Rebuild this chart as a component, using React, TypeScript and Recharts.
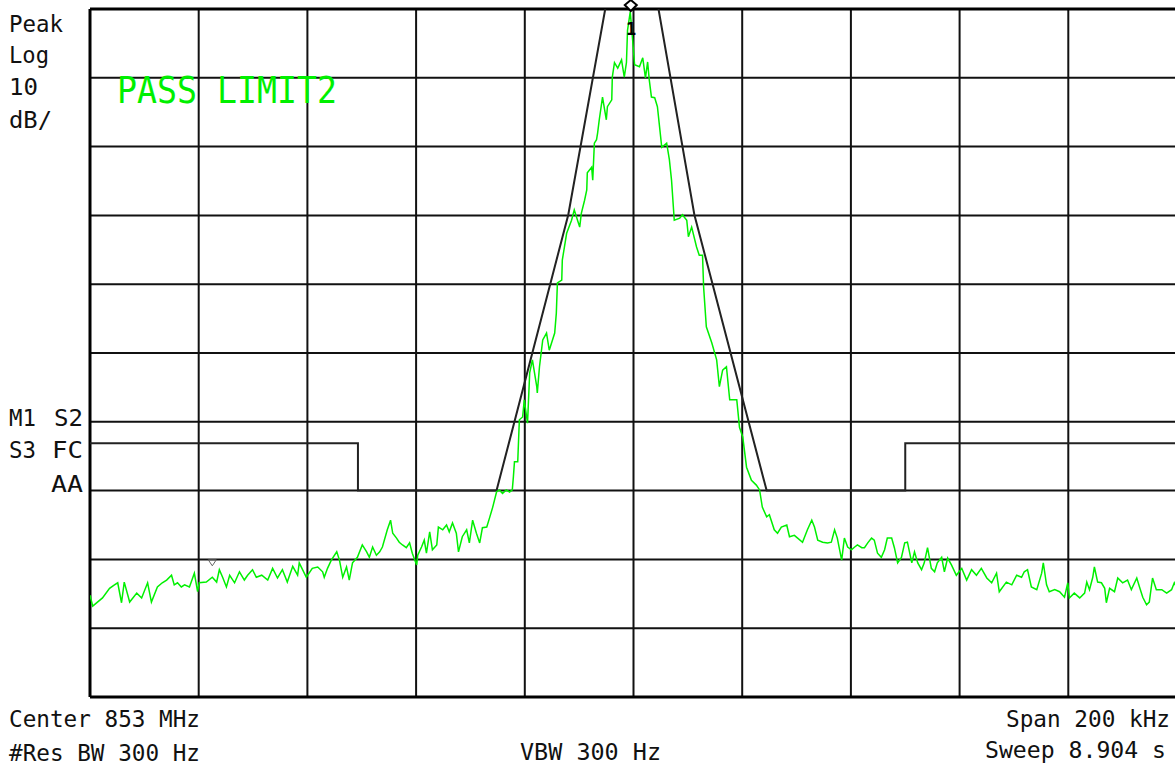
import React from 'react';
import { LineChart, Line, XAxis, YAxis, CartesianGrid, ReferenceLine, ReferenceDot } from 'recharts';

// frequency offset from 853 MHz in kHz, level in dB (top of screen = 0 dB, 10 dB/div)
const freqTicks = [-100, -80, -60, -40, -20, 0, 20, 40, 60, 80, 100];
const levelTicks = [-100, -90, -80, -70, -60, -50, -40, -30, -20, -10, 0];

const noiseLeft: [number, number][] = [
  [-100, -85.2], [-99.5, -86.8], [-97.7, -85.6], [-96.4, -84.2], [-95.5, -83.7], [-94.9, -83.4],
  [-94.2, -86.3], [-93.7, -83.3], [-92.7, -86.2], [-91.4, -84.9], [-90.5, -85.6], [-89.4, -83.4],
  [-88.7, -86.2], [-87.6, -84.0], [-86.7, -83.4], [-85.9, -83.0], [-85.0, -82.3], [-84.5, -83.7],
  [-83.9, -83.4], [-83.2, -84.0], [-82.6, -83.7], [-81.7, -84.0], [-80.8, -82.0], [-80.2, -84.7],
  [-79.9, -83.4], [-78.6, -83.3], [-77.5, -82.6], [-76.7, -83.3], [-76.2, -81.5], [-75.6, -82.6],
  [-74.9, -84.0], [-74.3, -82.3], [-73.4, -83.4], [-72.5, -81.8], [-71.6, -83.0], [-71.0, -82.3],
  [-70.1, -81.5], [-69.4, -82.6], [-68.4, -82.3], [-67.3, -83.0], [-66.4, -81.3], [-65.5, -82.7],
  [-64.6, -81.5], [-63.7, -83.3], [-62.7, -81.0], [-61.8, -82.3],
];

const shoulderLeft: [number, number][] = [
  [-61.5, -80.5], [-60.2, -82.6], [-59.1, -81.3], [-58.1, -81.1], [-57.2, -81.8], [-56.9, -82.6],
  [-56.3, -81.3], [-55.6, -80.1], [-54.6, -78.9], [-54.1, -80.1], [-53.5, -82.6], [-52.8, -81.1],
  [-52.3, -83.0], [-51.7, -80.5], [-50.8, -79.7], [-49.9, -77.9], [-49.1, -78.9], [-48.6, -79.7],
  [-48.0, -78.2], [-47.3, -79.4], [-46.7, -78.9], [-46.2, -78.2], [-45.3, -75.7], [-44.7, -74.3],
  [-44.3, -76.2], [-43.6, -76.9], [-43.1, -77.5], [-42.5, -77.9], [-41.8, -78.3], [-41.2, -77.6],
  [-40.7, -79.1], [-39.9, -80.8], [-39.7, -79.4], [-39.0, -78.2], [-38.5, -77.2], [-38.1, -79.1],
  [-37.5, -76.0], [-37.0, -78.6], [-36.2, -77.9], [-35.9, -75.3], [-35.1, -75.7], [-34.4, -75.0],
  [-33.9, -76.0], [-33.3, -74.7], [-32.6, -76.2], [-32.2, -78.9], [-31.5, -76.7], [-30.7, -75.7],
  [-30.2, -77.6], [-29.6, -74.3], [-28.9, -76.2], [-28.3, -77.6], [-27.8, -75.4], [-27.0, -75.3],
  [-26.5, -74.0], [-25.9, -72.4], [-25.2, -70.2], [-24.7, -69.9], [-24.1, -70.4], [-23.4, -69.9],
  [-22.8, -70.2], [-22.3, -69.9],
];

const risingEdge: [number, number][] = [
  [-22.1, -68.0], [-21.9, -65.8], [-21.3, -65.8], [-21.0, -59.7], [-20.4, -59.3], [-20.1, -56.8],
  [-19.5, -60.2], [-19.1, -52.9], [-18.6, -51.0], [-17.8, -54.9], [-17.7, -55.8], [-17.3, -52.0],
  [-16.7, -48.1], [-16.0, -47.1], [-15.5, -49.6], [-14.5, -47.1], [-14.2, -44.2], [-14.0, -39.8],
  [-13.2, -39.4], [-13.1, -36.5], [-12.3, -32.6], [-11.4, -30.7], [-10.9, -29.2], [-10.3, -30.7],
  [-9.9, -31.7], [-9.6, -29.7], [-9.0, -27.8], [-8.6, -26.3], [-8.5, -23.8], [-7.7, -23.0],
  [-7.5, -24.9], [-7.2, -19.5], [-6.8, -19.0], [-6.6, -18.0], [-6.3, -16.1], [-5.7, -12.8],
  [-5.3, -14.7], [-5.0, -16.1], [-4.8, -14.2], [-4.0, -13.2], [-3.9, -9.9], [-3.5, -7.8],
  [-2.9, -8.6], [-2.2, -7.4], [-1.7, -9.9], [-1.3, -7.8], [-1.1, -3.1], [-0.6, -0.4], [-0.2, -4.1],
];

const fallingEdge: [number, number][] = [
  [0.2, -8.1], [1.1, -8.4], [1.7, -7.1], [2.2, -10.0], [2.6, -7.7], [2.9, -10.3], [3.3, -12.8],
  [3.9, -12.9], [4.4, -14.2], [5.2, -20.1], [6.1, -19.5], [6.6, -21.9], [7.0, -24.9], [7.5, -30.7],
  [8.5, -30.4], [9.0, -29.9], [9.8, -30.7], [10.1, -33.1], [10.7, -31.7], [11.6, -34.6], [12.1, -35.8],
  [12.7, -35.8], [12.9, -40.4], [13.4, -46.2], [14.4, -48.5], [15.3, -51.0], [15.8, -54.9], [16.4, -52.5],
  [17.1, -52.0], [17.7, -56.8], [19.0, -56.8], [19.5, -60.8], [20.1, -62.2], [20.8, -66.6], [21.7, -68.5],
  [22.6, -69.2], [23.2, -69.9], [23.7, -72.4], [24.5, -73.8],
];

const noiseRight: [number, number][] = [
  [25.0, -73.5], [25.9, -75.7], [26.5, -76.2], [27.2, -75.3], [28.2, -75.0], [28.7, -76.7], [29.6, -76.5],
  [30.2, -76.9], [31.1, -77.5], [32.0, -75.7], [32.8, -74.3], [33.3, -75.3], [33.9, -77.2], [34.8, -77.5],
  [35.7, -77.6], [36.4, -77.5], [37.0, -75.7], [37.5, -76.9], [38.3, -80.1], [38.8, -76.9], [39.4, -78.2],
  [40.1, -78.6], [40.7, -78.2], [41.2, -77.9], [42.0, -78.3], [42.5, -78.3], [43.1, -77.6], [43.8, -76.9],
  [44.3, -77.2], [44.9, -79.1], [45.6, -79.7], [46.2, -78.6], [46.7, -76.9], [47.5, -76.9], [48.0, -78.3],
  [48.6, -80.5], [49.3, -79.7], [49.9, -77.6], [50.4, -77.5], [51.2, -80.5], [51.7, -78.9], [52.3, -80.5],
  [53.0, -81.5], [53.5, -80.5], [54.1, -78.3], [54.8, -81.3], [55.4, -81.8], [55.9, -80.5], [56.7, -79.7],
  [57.2, -81.8], [57.8, -79.8], [58.5, -80.8], [59.4, -82.3], [60.4, -81.3], [61.3, -83.0], [62.2, -81.5],
  [63.1, -82.3], [64.0, -81.3], [65.0, -82.7], [65.9, -83.4], [66.8, -82.0], [67.3, -84.7], [68.6, -83.3],
  [69.6, -83.7], [70.5, -82.3], [71.4, -82.6], [71.9, -81.8], [72.5, -81.5], [73.2, -84.0], [74.2, -84.4],
  [75.1, -82.0], [75.4, -80.5], [76.0, -83.7], [76.5, -84.7], [77.5, -84.4], [78.4, -84.7], [79.3, -85.5],
  [79.9, -83.4], [80.2, -85.6], [81.1, -84.9], [82.1, -85.6], [83.0, -84.9], [83.4, -83.3], [83.9, -84.4],
  [84.5, -82.6], [84.8, -81.1], [85.4, -83.3], [86.1, -83.4], [86.7, -84.2], [87.0, -86.3], [87.6, -84.2],
  [88.5, -84.7], [89.1, -82.7], [90.0, -83.4], [90.9, -83.0], [91.6, -84.4], [92.6, -82.7], [93.1, -84.0],
  [93.7, -85.5], [94.4, -86.6], [94.9, -86.2], [95.5, -82.7], [96.2, -84.4], [97.2, -84.4], [98.1, -84.9],
  [99.0, -84.4], [99.5, -83.4], [100, -84.2],
];

// limit line 2 (mask)
const limitLower: [number, number][] = [
  [-100, -63.1], [-50.7, -63.1], [-50.7, -70.0], [-25.2, -70.0], [-12.0, -29.9], [-5.2, 0],
];
const limitUpper: [number, number][] = [
  [4.6, 0], [11.2, -29.9], [24.5, -70.0], [50.0, -70.0], [50.0, -63.1], [100, -63.1],
];

const toPoints = (arr: [number, number][]) => arr.map(([f, dB]) => ({ f, dB }));

const trace = toPoints([...noiseLeft, ...shoulderLeft, ...risingEdge, ...fallingEdge, ...noiseRight]);
const limitLeftPts = toPoints(limitLower);
const limitRightPts = toPoints(limitUpper);

const peakMarker = { f: -0.5, dB: 0 };
const deltaMarker = { f: -77.5, dB: -80.5 };

const MONO = '"DejaVu Sans Mono", "Liberation Mono", monospace';
const INK = '#111';

const labels = [
  { t: 'Peak', x: 9, y: 32, w: 54 },
  { t: 'Log', x: 9, y: 63, w: 40 },
  { t: '10', x: 9, y: 95, w: 29 },
  { t: 'dB/', x: 9, y: 128, w: 43 },
  { t: 'M1', x: 9, y: 426, w: 27 },
  { t: 'S2', x: 54, y: 426, w: 29 },
  { t: 'S3', x: 9, y: 458, w: 27 },
  { t: 'FC', x: 52, y: 458, w: 31 },
  { t: 'AA', x: 51, y: 492, w: 32 },
  { t: 'Center 853 MHz', x: 9, y: 727, w: 191 },
  { t: '#Res BW 300 Hz', x: 9, y: 761, w: 191 },
  { t: 'VBW 300 Hz', x: 520, y: 760, w: 141 },
  { t: 'Span 200 kHz', x: 1006, y: 727, w: 164 },
  { t: 'Sweep 8.904 s', x: 985, y: 758, w: 181 },
];

export default function App() {
  return (
    <div style={{ position: 'absolute', left: 0, top: 0, width: 1175, height: 766, overflow: 'hidden', background: '#fff' }}>
      <LineChart width={1180} height={766} margin={{ top: 9, right: 3, bottom: 69, left: 90 }}>
        <XAxis type="number" dataKey="f" domain={[-100, 100]} ticks={freqTicks} hide allowDataOverflow />
        <YAxis type="number" dataKey="dB" domain={[-100, 0]} ticks={levelTicks} hide allowDataOverflow />
        <CartesianGrid stroke="#111" strokeWidth={2} />
        <ReferenceLine x={-100} stroke="#000" strokeWidth={3} />
        <ReferenceLine y={0} stroke="#000" strokeWidth={3} />
        <ReferenceLine y={-100} stroke="#000" strokeWidth={3} />
        <Line data={limitLeftPts} dataKey="dB" stroke="#222" strokeWidth={2} dot={false} isAnimationActive={false} type="linear" />
        <Line data={limitRightPts} dataKey="dB" stroke="#222" strokeWidth={2} dot={false} isAnimationActive={false} type="linear" />
        <Line data={trace} dataKey="dB" stroke="#00f000" strokeWidth={1.5} dot={false} isAnimationActive={false} type="linear" />
        <ReferenceDot
          x={peakMarker.f}
          y={peakMarker.dB}
          ifOverflow="visible"
          shape={(p: any) => (
            <path d={`M${p.cx},${p.cy - 9} L${p.cx + 6},${p.cy - 4} L${p.cx},${p.cy + 2} L${p.cx - 6},${p.cy - 4} Z`} fill="#fff" stroke="#000" strokeWidth={2} />
          )}
        />
        <ReferenceDot
          x={deltaMarker.f}
          y={deltaMarker.dB}
          shape={(p: any) => (
            <path d={`M${p.cx - 4},${p.cy - 3} L${p.cx + 4},${p.cy - 3} L${p.cx},${p.cy + 3} Z`} fill="none" stroke="#666" strokeWidth={1} />
          )}
        />
      </LineChart>
      <svg width={1175} height={766} style={{ position: 'absolute', left: 0, top: 0, pointerEvents: 'none' }}>
        {labels.map(l => (
          <text key={l.t} x={l.x} y={l.y} fontFamily={MONO} fontSize={23} fill={INK} textLength={l.w} lengthAdjust="spacingAndGlyphs">
            {l.t}
          </text>
        ))}
        <text x={117} y={103} fontFamily={MONO} fontSize={38} fill="#00f000" textLength={220} lengthAdjust="spacingAndGlyphs">
          PASS LIMIT2
        </text>
        <text x={631} y={35} fontFamily={MONO} fontSize={17} fontWeight="bold" fill="#000" textAnchor="middle">
          1
        </text>
      </svg>
    </div>
  );
}
